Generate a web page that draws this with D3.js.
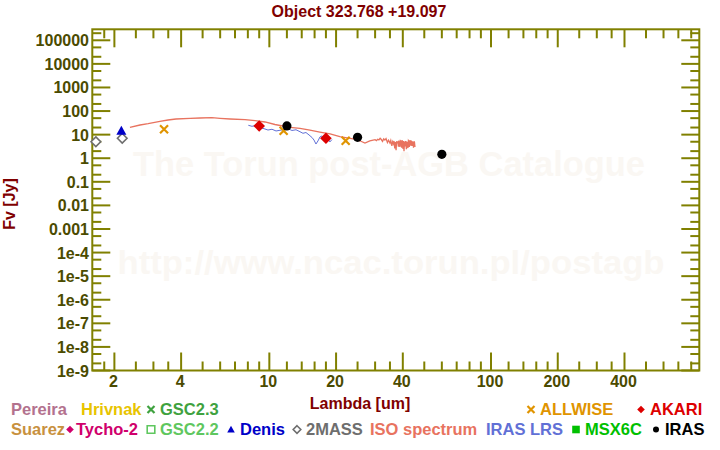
<!DOCTYPE html>
<html>
  <head>
    <meta charset="utf-8">
    <title>Object 323.768 +19.097</title>
    <script src="https://d3js.org/d3.v7.min.js"></script>
    <style>
      body { margin: 0; background: white; }
      svg { font-family: "Liberation Sans", Arial, sans-serif; font-weight: bold; }
    </style>
  </head>
  <body>
    <svg id="chart" width="720" height="450"></svg>
    <script>
      // ---- data (wavelength in um, flux in Jy) ----
      const isoWl = [2.35, 2.61, 2.84, 3.21, 3.49, 3.79, 4.39, 4.87, 5.51, 5.99, 6.65, 7.77, 8.62, 9.56, 10.6,
        12.4, 13.75, 15.25, 16.9, 18.8, 20.8, 23.1, 24.3, 25.6, 27.0, 28.4,
        30.0, 30.4, 30.8, 31.2, 31.6, 32.0, 32.4, 32.8, 33.2, 33.6, 34.1, 34.5, 35.0, 35.3, 35.7, 36.0,
        36.3, 36.5, 36.8, 37.0, 37.3, 37.5, 37.7, 38.0, 38.2, 38.4, 38.6, 38.8, 39.0, 39.2, 39.5, 39.7,
        39.9, 40.1, 40.3, 40.5, 40.7, 40.9, 41.1, 41.3, 41.5, 41.8, 42.0, 42.2, 42.4, 42.6, 42.8, 43.1,
        43.3, 43.5, 43.7, 44.0, 44.2, 44.5, 44.7, 44.9, 45.1, 45.4];
      const isoFl = [20.5, 25.6, 29.1, 36.8, 41.8, 46.1, 49.3, 50.8, 52.8, 49.3, 46.1, 43.0, 39.0, 34.4, 26.9,
        20.5, 18.6, 15.7, 12.9, 10.7, 8.2, 7.0, 6.4, 5.5, 4.4, 5.4,
        6.1, 5.6, 6.4, 6.0, 7.0, 6.2, 5.2, 6.6, 5.9, 6.8, 4.6, 5.8, 4.4, 5.6, 3.3, 5.0,
        4.1, 5.4, 2.6, 4.8, 2.2, 5.2, 4.6, 4.9, 3.1, 5.6, 3.8, 3.0, 5.5, 5.2, 2.8, 5.9,
        4.0, 2.5, 5.3, 2.0, 4.6, 4.8, 3.2, 5.4, 2.4, 5.0, 3.6, 2.7, 5.5, 5.1, 3.0, 5.9,
        4.2, 3.4, 5.6, 3.3, 5.0, 4.9, 2.8, 4.4, 5.2, 3.0];
      const lrsWl = [8.04, 8.35, 8.71, 9.08, 9.46, 9.86, 10.28, 10.72, 11.17, 11.65, 12.14, 12.65, 13.19, 13.75,
        14.18, 14.63, 15.10, 15.57, 15.90, 16.23, 16.57, 16.92, 17.27, 17.63, 18.0, 18.38, 18.76, 19.16];
      const lrsFl = [24.9, 22.6, 24.4, 20.1, 17.9, 15.7, 16.9, 14.3, 15.3, 16.5, 17.9, 15.0, 16.1, 13.3,
        11.4, 12.3, 9.7, 7.6, 5.9, 4.0, 5.4, 8.0, 8.8, 6.9, 9.2, 6.5, 4.9, 6.2];
      const twoMassWl = [1.65, 2.17];
      const twoMassFl = [5.0, 7.0];
      const denisWl = [2.15];
      const denisFl = [14.7];
      const allwiseWl = [3.35, 11.6, 22.1];
      const allwiseFl = [16.9, 14.7, 5.5];
      const akariWl = [9, 18];
      const akariFl = [23.3, 7.0];
      const irasWl = [12, 25, 60];
      const irasFl = [23.3, 7.7, 1.47];

      const xMajor = [2, 4, 10, 20, 40, 100, 200, 400];
      const xMinor = [1.8, 2.5, 3, 3.5, 5, 6, 7, 8, 9, 12, 14, 16, 18, 25, 30, 35, 50, 60, 70, 80, 90,
        120, 140, 160, 180, 250, 300, 350, 500, 600, 700, 800];
      const yMajor = [1e5, 1e4, 1e3, 100, 10, 1, 0.1, 0.01, 0.001, 1e-4, 1e-5, 1e-6, 1e-7, 1e-8, 1e-9];
      const yLabels = ["100000", "10000", "1000", "100", "10", "1", "0.1", "0.01", "0.001",
        "1e-4", "1e-5", "1e-6", "1e-7", "1e-8", "1e-9"];
      const yMinorMult = [2, 5];

      const legendNames = ["Pereira", "Hrivnak", "GSC2.3", "ALLWISE", "AKARI",
        "Suarez", "Tycho-2", "GSC2.2", "Denis", "2MASS", "ISO spectrum", "IRAS LRS", "MSX6C", "IRAS"];
      const legendSymbols = ["", "", "x", "x", "diamond",
        "", "diamond", "square", "triangle", "odiamond", "", "", "fsquare", "circle"];
      const legendColors = ["#b3728e", "#e8c400", "#3fa23f", "#e09400", "#dd0000",
        "#c8913f", "#d0006c", "#5fc75f", "#0000c8", "#6e6e6e", "#e8735f", "#6170d6", "#00c000", "#000000"];

      // ---- layout ----
      const svg = d3.select("#chart");
      const axisColor = "#808000";
      const labelColor = "#4b4b00";
      const titleColor = "#800000";
      const pLeft = 92.3, pRight = 699.3, pTop = 29.3, pBottom = 370.5;

      const x = d3.scaleLog().domain([1.59, 870]).range([pLeft, pRight]);
      const y = d3.scaleLog().domain([Math.pow(10, 5.466), 1e-9]).range([pTop, pBottom]);

      // watermarks
      svg.append("text")
        .attr("x", 389).attr("y", 176)
        .attr("text-anchor", "middle")
        .attr("font-size", 35)
        .attr("textLength", 512).attr("lengthAdjust", "spacingAndGlyphs")
        .attr("fill", "#faf7f3")
        .text("The Torun post-AGB Catalogue");
      svg.append("text")
        .attr("x", 391).attr("y", 274)
        .attr("text-anchor", "middle")
        .attr("font-size", 34)
        .attr("textLength", 547).attr("lengthAdjust", "spacingAndGlyphs")
        .attr("fill", "#faf7f3")
        .text("http://www.ncac.torun.pl/postagb");

      // frame
      svg.append("rect")
        .attr("x", pLeft).attr("y", pTop)
        .attr("width", pRight - pLeft).attr("height", pBottom - pTop)
        .attr("fill", "none").attr("stroke", axisColor).attr("stroke-width", 2);

      // ticks on all four sides
      const ticks = svg.append("g").attr("stroke", axisColor).attr("stroke-width", 2);
      function xTick(v, len) {
        ticks.append("line").attr("x1", x(v)).attr("x2", x(v)).attr("y1", pTop).attr("y2", pTop + len);
        ticks.append("line").attr("x1", x(v)).attr("x2", x(v)).attr("y1", pBottom).attr("y2", pBottom - len);
      }
      function yTick(v, len) {
        ticks.append("line").attr("y1", y(v)).attr("y2", y(v)).attr("x1", pLeft).attr("x2", pLeft + len);
        ticks.append("line").attr("y1", y(v)).attr("y2", y(v)).attr("x1", pRight).attr("x2", pRight - len);
      }
      xMajor.forEach(function(v) { xTick(v, 18); });
      xMinor.forEach(function(v) { xTick(v, 9); });
      yMajor.forEach(function(v) { yTick(v, 18); });
      yMajor.forEach(function(d) {
        yMinorMult.forEach(function(m) {
          let v = d * m;
          if (y(v) > pTop + 1 && y(v) < pBottom - 1) yTick(v, 9);
        });
      });

      // tick labels
      svg.append("g").selectAll("text")
          .data(xMajor)
        .enter().append("text")
          .attr("x", function(d) { return x(d) - 1; })
          .attr("y", 387)
          .attr("text-anchor", "middle")
          .attr("font-size", 16)
          .attr("fill", labelColor)
          .text(function(d) { return d; });
      svg.append("g").selectAll("text")
          .data(yMajor)
        .enter().append("text")
          .attr("x", 89)
          .attr("y", function(d) { return y(d) + 6; })
          .attr("text-anchor", "end")
          .attr("font-size", 16)
          .attr("fill", labelColor)
          .text(function(d, i) { return yLabels[i]; });

      // titles
      svg.append("text")
        .attr("x", 359).attr("y", 17)
        .attr("text-anchor", "middle").attr("font-size", 16)
        .attr("fill", titleColor)
        .text("Object 323.768 +19.097");
      svg.append("text")
        .attr("x", 360).attr("y", 409)
        .attr("text-anchor", "middle").attr("font-size", 16)
        .attr("fill", titleColor)
        .text("Lambda [um]");
      svg.append("text")
        .attr("transform", "translate(15,204) rotate(-90)")
        .attr("text-anchor", "middle").attr("font-size", 16)
        .attr("fill", titleColor)
        .text("Fv [Jy]");

      // spectra
      const line = d3.line()
        .x(function(d) { return x(d[0]); })
        .y(function(d) { return y(d[1]); });
      const plot = svg.append("g");
      plot.append("path")
        .datum(isoWl.map(function(w, i) { return [w, isoFl[i]]; }))
        .attr("d", line)
        .attr("fill", "none").attr("stroke", legendColors[10]).attr("stroke-width", 1.3);
      plot.append("path")
        .datum(lrsWl.map(function(w, i) { return [w, lrsFl[i]]; }))
        .attr("d", line)
        .attr("fill", "none").attr("stroke", legendColors[11]).attr("stroke-width", 1);

      // markers
      function symbolPath(type, s) {
        if (type == "x") return "M" + (-s) + "," + (-s) + "L" + s + "," + s + "M" + (-s) + "," + s + "L" + s + "," + (-s);
        if (type == "diamond" || type == "odiamond") return "M0," + (-s) + "L" + s + ",0L0," + s + "L" + (-s) + ",0Z";
        if (type == "triangle") return "M0," + (-s) + "L" + s + "," + (s * 0.8) + "L" + (-s) + "," + (s * 0.8) + "Z";
        if (type == "square" || type == "fsquare") return "M" + (-s) + "," + (-s) + "H" + s + "V" + s + "H" + (-s) + "Z";
        return "";
      }
      function drawMarker(g, type, color, cx, cy, s) {
        if (type == "circle") {
          g.append("circle").attr("cx", cx).attr("cy", cy).attr("r", s).attr("fill", color);
          return;
        }
        let p = g.append("path")
          .attr("transform", "translate(" + cx + "," + cy + ")")
          .attr("d", symbolPath(type, s));
        if (type == "x") p.attr("fill", "none").attr("stroke", color).attr("stroke-width", 2.2);
        else if (type == "odiamond" || type == "square") p.attr("fill", "white").attr("stroke", color).attr("stroke-width", 1.6);
        else p.attr("fill", color);
      }
      function series(wl, fl, type, color, s) {
        wl.forEach(function(w, i) { drawMarker(plot, type, color, x(w), y(fl[i]), s); });
      }
      series(twoMassWl, twoMassFl, "odiamond", legendColors[9], 4.8);
      series(denisWl, denisFl, "triangle", legendColors[8], 5);
      series(allwiseWl, allwiseFl, "x", legendColors[3], 4);
      series(akariWl, akariFl, "diamond", legendColors[4], 5.8);
      series(irasWl, irasFl, "circle", legendColors[13], 4.6);

      // legend
      const legendX = [11, 81, 160, 540, 650, 11, 76, 160, 240, 306, 370, 486, 585, 665];
      const legendY = [415, 415, 415, 415, 415, 435, 435, 435, 435, 435, 435, 435, 435, 435];
      const legend = svg.append("g");
      legendNames.forEach(function(name, i) {
        legend.append("text")
          .attr("x", legendX[i]).attr("y", legendY[i])
          .attr("font-size", 16.5)
          .attr("fill", legendColors[i])
          .text(name);
        if (legendSymbols[i]) {
          let sx = legendX[i] - 9;
          let sy = legendY[i] - 5.5;
          let sz = legendSymbols[i] == "x" ? 3.5 : legendSymbols[i] == "circle" ? 3 : 3.8;
          if (i == 6) sx = legendX[i] - 6;
          drawMarker(legend, legendSymbols[i], legendColors[i], sx, sy, sz);
        }
      });
    </script>
  </body>
</html>
